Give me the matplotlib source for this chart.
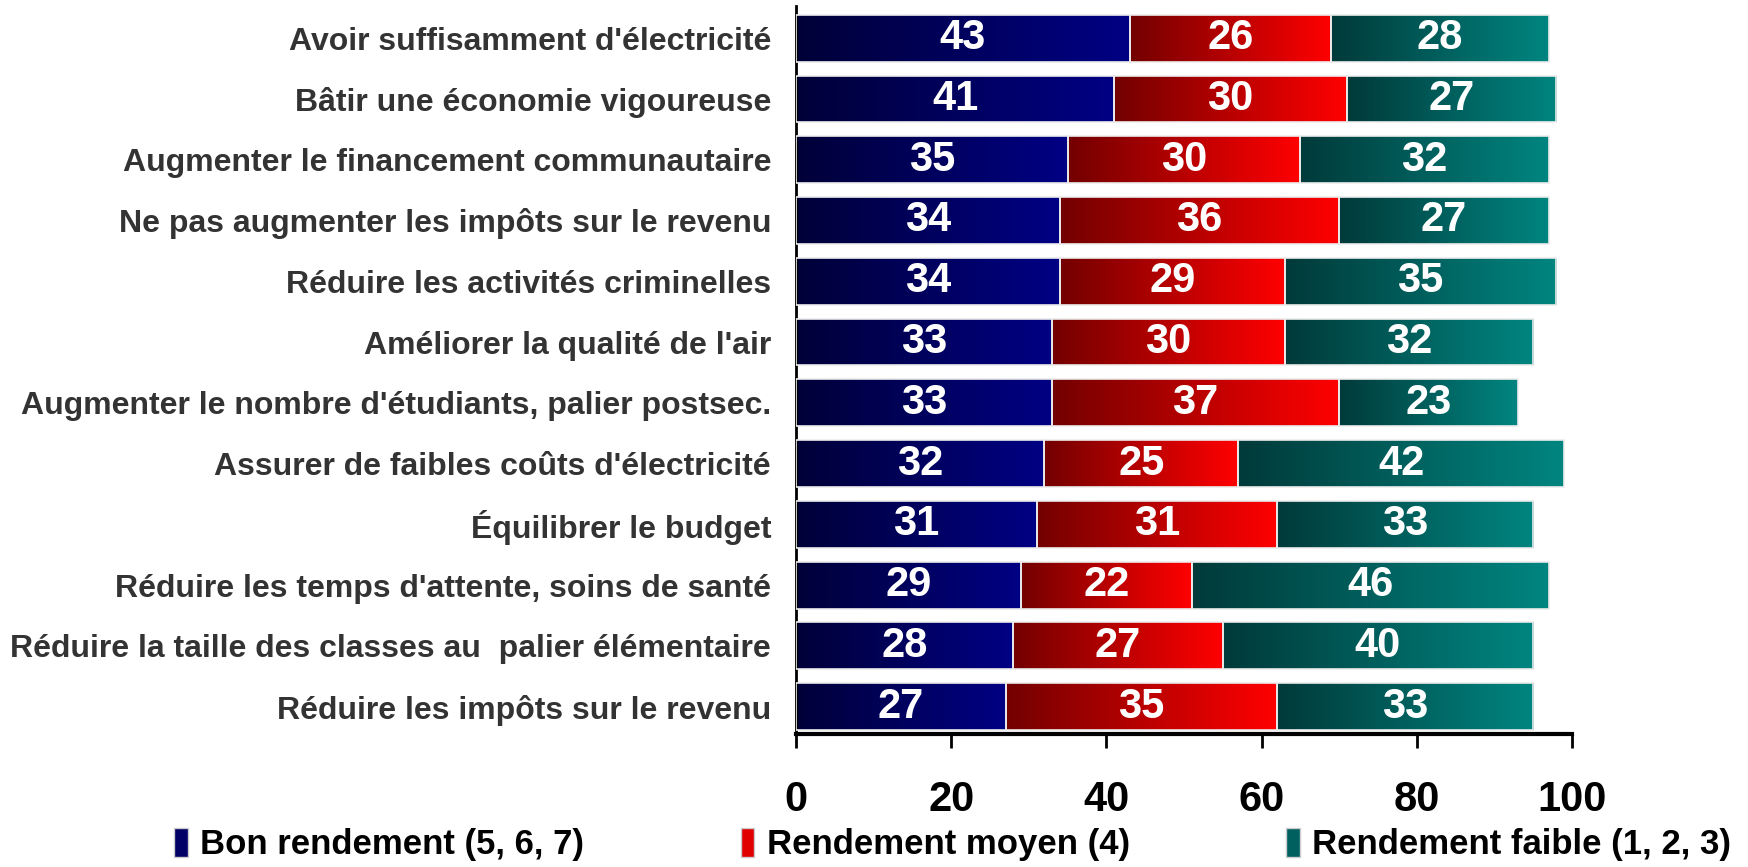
import numpy as np
import matplotlib.pyplot as plt
from matplotlib.colors import LinearSegmentedColormap
from matplotlib.patches import Patch

plt.rcParams['font.family'] = ['Liberation Sans', 'DejaVu Sans']
plt.rcParams['font.weight'] = 'bold'

categories = [
    "Avoir suffisamment d'électricité",
    "Bâtir une économie vigoureuse",
    "Augmenter le financement communautaire",
    "Ne pas augmenter les impôts sur le revenu",
    "Réduire les activités criminelles",
    "Améliorer la qualité de l'air",
    "Augmenter le nombre d'étudiants, palier postsec.",
    "Assurer de faibles coûts d'électricité",
    "Équilibrer le budget",
    "Réduire les temps d'attente, soins de santé",
    "Réduire la taille des classes au  palier élémentaire",
    "Réduire les impôts sur le revenu",
]
bon = [43, 41, 35, 34, 34, 33, 33, 32, 31, 29, 28, 27]
moyen = [26, 30, 30, 36, 29, 30, 37, 25, 31, 22, 27, 35]
faible = [28, 27, 32, 27, 35, 32, 23, 42, 33, 46, 40, 33]
series_names = ['Bon rendement (5, 6, 7)', 'Rendement moyen (4)', 'Rendement faible (1, 2, 3)']
xticks = [0, 20, 40, 60, 80, 100]

# gradient ends (left dark -> right bright) for each series
grads = [('#000038', '#000084'), ('#730000', '#ff0000'), ('#003a3a', '#008580')]
legend_colors = ['#000066', '#e00000', '#006060']

fig = plt.figure(figsize=(17.48, 8.67), dpi=100)
ax = fig.add_axes([0.4554, 0.1534, 0.4439, 0.8397])

y = np.arange(len(categories))
lefts = np.zeros(len(categories))
grad = np.linspace(0, 1, 256).reshape(1, -1)

for vals, (c0, c1) in zip([bon, moyen, faible], grads):
    cmap = LinearSegmentedColormap.from_list('g', [c0, c1])
    bars = ax.barh(y, vals, left=lefts, height=0.77, color='none',
                   edgecolor='#ececec', linewidth=1.2, zorder=3)
    for bar, v in zip(bars, vals):
        x0, y0 = bar.get_x(), bar.get_y()
        w, h = bar.get_width(), bar.get_height()
        im = ax.imshow(grad, extent=[x0, x0 + w, y0, y0 + h], aspect='auto',
                       cmap=cmap, interpolation='bilinear', zorder=2)
        im.set_clip_path(bar)
        ax.text(x0 + w / 2, y0 + h / 2, str(v), color='white', fontsize=30,
                fontweight='bold', ha='center', va='center', zorder=4)
    lefts = lefts + np.array(vals)

ax.set_xlim(0, 100)
ax.set_ylim(len(categories) - 0.55, -0.53)
ax.set_aspect('auto')
ax.set_yticks(y)
ax.set_yticklabels(categories, fontsize=23, color='#333333', fontweight='bold')
ax.set_xticks(xticks)
ax.set_xticklabels([str(t) for t in xticks], fontsize=30, fontweight='bold')
ax.tick_params(axis='y', length=0, pad=18)
ax.tick_params(axis='x', length=10, width=2, direction='out', pad=23)
for s in ['top', 'right']:
    ax.spines[s].set_visible(False)
ax.spines['left'].set_linewidth(2)
ax.spines['bottom'].set_linewidth(3)

handles = [Patch(facecolor=c, edgecolor='#cccccc') for c in legend_colors]
fig.legend(handles, series_names, loc='center', bbox_to_anchor=(0.545, 0.026),
           ncol=3, frameon=False, handlelength=0.4, handleheight=0.9,
           handletextpad=0.35, columnspacing=4.5, prop={'weight': 'bold', 'size': 25})

fig.savefig('out.png', dpi=100)
